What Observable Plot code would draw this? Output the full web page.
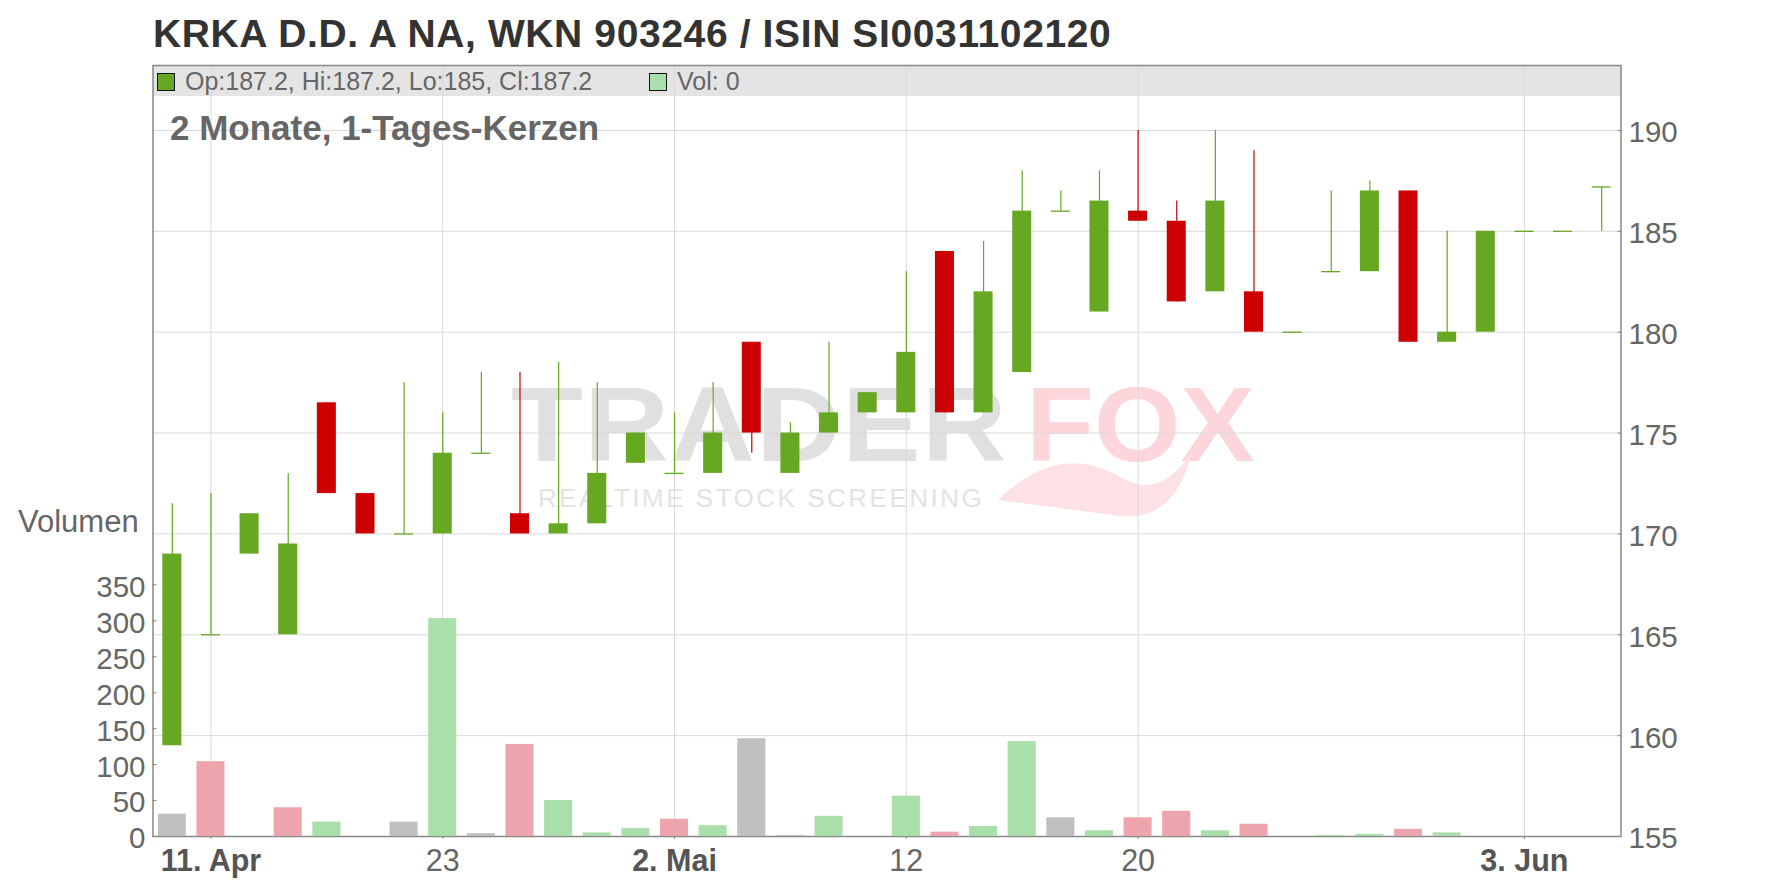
<!DOCTYPE html>
<html>
<head>
<meta charset="utf-8">
<script src="https://cdn.jsdelivr.net/npm/d3@7"></script>
<script src="https://cdn.jsdelivr.net/npm/@observablehq/plot@0.6"></script>
<style>
html, body { margin: 0; padding: 0; background: #fff; overflow: hidden; }
#root { position: relative; width: 1776px; height: 888px; font-family: "Liberation Sans", Arial, sans-serif; }
.abs { position: absolute; white-space: nowrap; line-height: 1; }
#root svg { position: absolute; left: 0; top: 0; }
</style>
</head>
<body>
<div id="root"></div>
<script>
// ---- data ----
const dates = ["2025-04-10","2025-04-11","2025-04-14","2025-04-15","2025-04-16","2025-04-17","2025-04-22","2025-04-23","2025-04-24","2025-04-25","2025-04-28","2025-04-29","2025-04-30","2025-05-02","2025-05-05","2025-05-06","2025-05-07","2025-05-08","2025-05-09","2025-05-12","2025-05-13","2025-05-14","2025-05-15","2025-05-16","2025-05-19","2025-05-20","2025-05-21","2025-05-22","2025-05-23","2025-05-26","2025-05-27","2025-05-28","2025-05-29","2025-05-30","2025-06-02","2025-06-03","2025-06-04","2025-06-05"];
const openP  = [159.5,165,169,165,176.5,172,170,170,174,171,170,170.5,173.5,173,173,179.5,173,175,176,176,184,176,178,186,181,186,185.5,182,182,180,183,183,187,179.5,180,185,185,187.2];
const highP  = [171.5,172,171,173,176.5,172,177.5,176,178,178,178.5,177.5,175,176,177.5,179.5,175.5,179.5,177,183,184,184.5,188,187,188,190,186.5,190,189,180,187,187.5,187,185,185,185,185,187.2];
const lowP   = [159.5,165,169,165,172,170,170,170,174,170,170,170.5,173.5,173,173,174,173,175,176,176,176,176,178,186,181,185.5,181.5,182,180,180,183,183,179.5,179.5,180,185,185,185];
const closeP = [169,165,171,169.5,172,170,170,174,174,170,170.5,173,175,173,175,175,175,176,177,179,176,182,186,186,186.5,185.5,181.5,186.5,180,180,183,187,179.5,180,185,185,185,187.2];
const volume = [31,104,0,40,20,0,20,303,4,128,50,5,11,24,15,136,1.5,28,0,56,6,14,132,26,8,26,35,8,17,0,1.5,3,10,5,0,0,0,0];

const priceTicks = [155,160,165,170,175,180,185,190];
const volumeTicks = [0,50,100,150,200,250,300,350];
const xTickDates  = ["2025-04-11","2025-04-23","2025-05-02","2025-05-12","2025-05-20","2025-06-03"];
const xTickLabels = ["11. Apr","23","2. Mai","12","20","3. Jun"];
const xTickBold   = [true,false,true,false,false,true];

const title = "KRKA D.D. A NA, WKN 903246 / ISIN SI0031102120";
const subtitle = "2 Monate, 1-Tages-Kerzen";
const legendOHLC = "Op:187.2, Hi:187.2, Lo:185, Cl:187.2";
const legendVol = "Vol: 0";
const volumeLabel = "Volumen";

// ---- styling ----
const GREEN = "#67a822", RED = "#cc0000";
const VOL_UP = "#aadeaa", VOL_DOWN = "#eda4ad", VOL_FLAT = "#c0c0c0";
const GRID = "#d9d9d9", AXIS = "#888";
const FONT = '"Liberation Sans", Arial, sans-serif';
const W = 1776, H = 888, mL = 152.5, mR = 155.5, mT = 65, mB = 52;

const rows = dates.map((d, i) => ({
  date: d, open: openP[i], high: highP[i], low: lowP[i], close: closeP[i], volume: volume[i],
  up: closeP[i] >= openP[i],
  volDir: i === 0 ? 0 : Math.sign(closeP[i] - closeP[i - 1])
}));
const labelOf = new Map(xTickDates.map((d, i) => [d, xTickLabels[i]]));
const boldTicks = xTickDates.filter((d, i) => xTickBold[i]);
const regTicks = xTickDates.filter((d, i) => !xTickBold[i]);

const root = document.getElementById("root");
function addDiv(text, css) {
  const el = document.createElement("div");
  el.className = "abs";
  el.textContent = text;
  Object.assign(el.style, css);
  root.appendChild(el);
  return el;
}

// legend band (behind the charts)
addDiv("", {left: mL + "px", top: mT + "px", width: (W - mL - mR) + "px", height: "31px", background: "#e4e4e4"});

// watermark (behind the charts)
addDiv("TRADER", {left: "511px", top: "372px", fontSize: "105px", fontWeight: "bold", color: "#e0e0e0", letterSpacing: "1px", transform: "scaleX(1.12)", transformOrigin: "0 0"});
addDiv("FOX", {left: "1026px", top: "372px", fontSize: "105px", fontWeight: "bold", color: "#fdd6db", transform: "scaleX(1.06)", transformOrigin: "0 0"});
addDiv("REALTIME STOCK SCREENING", {left: "538px", top: "485px", fontSize: "26px", color: "#e3e3e3", letterSpacing: "2.5px"});
const tail = document.createElementNS("http://www.w3.org/2000/svg", "svg");
tail.setAttribute("width", W); tail.setAttribute("height", H);
tail.innerHTML = '<path d="M 998 500 Q 1060 440 1122 478 Q 1160 500 1192 452 Q 1175 522 1120 516 Q 1060 508 998 500 Z" fill="#fde1e4"/>';
root.appendChild(tail);

const baseStyle = {background: "transparent", fontFamily: FONT, fontSize: "29.5px", color: "#666", overflow: "visible"};

// ---- price chart ----
const priceChart = Plot.plot({
  width: W, height: H, marginLeft: mL, marginRight: mR, marginTop: mT, marginBottom: mB,
  style: baseStyle,
  x: {type: "band", domain: dates, padding: 0, round: false, label: null},
  y: {domain: [155, 193.22], label: null},
  marks: [
    Plot.gridY(priceTicks, {stroke: GRID, strokeOpacity: 1}),
    Plot.gridX(xTickDates, {stroke: GRID, strokeOpacity: 1}),
    Plot.ruleX(rows.filter(d => d.up), {x: "date", y1: "low", y2: "high", stroke: GREEN, strokeWidth: 1.2}),
    Plot.ruleX(rows.filter(d => !d.up), {x: "date", y1: "low", y2: "high", stroke: RED, strokeWidth: 1.2}),
    Plot.barY(rows.filter(d => d.up && d.open !== d.close), {x: "date", y1: "open", y2: "close", fill: GREEN, insetLeft: 9.8, insetRight: 9.8}),
    Plot.barY(rows.filter(d => !d.up), {x: "date", y1: "open", y2: "close", fill: RED, insetLeft: 9.8, insetRight: 9.8}),
    Plot.tickY(rows.filter(d => d.open === d.close), {x: "date", y: "close", stroke: GREEN, strokeWidth: 1.3, insetLeft: 9.8, insetRight: 9.8}),
    Plot.frame({stroke: AXIS, strokeWidth: 1.5}),
    Plot.axisY(priceTicks, {anchor: "right", tickSize: 4, dx: -4, tickFormat: () => "", stroke: AXIS, label: null}),
    Plot.axisY(priceTicks, {anchor: "right", tickSize: 0, tickPadding: 7.5, dy: 2.5, fill: "#666", label: null}),
    Plot.axisX(boldTicks, {anchor: "bottom", tickSize: 3, tickPadding: 9.4, tickFormat: d => labelOf.get(d), fontWeight: "bold", fontSize: "30.5px", fill: "#555", stroke: AXIS, label: null}),
    Plot.axisX(regTicks, {anchor: "bottom", tickSize: 3, tickPadding: 9.4, tickFormat: d => labelOf.get(d), fontSize: "30.5px", fill: "#666", stroke: AXIS, label: null})
  ]
});
root.appendChild(priceChart);

// ---- volume chart (overlay, own scale on the left) ----
const volChart = Plot.plot({
  width: W, height: H, marginLeft: mL, marginRight: mR, marginTop: mT, marginBottom: mB,
  style: baseStyle,
  x: {type: "band", domain: dates, padding: 0, round: false, axis: null, label: null},
  y: {domain: [0, 1072.2], label: null},
  marks: [
    Plot.barY(rows.filter(d => d.volume > 0 && d.volDir > 0), {x: "date", y: "volume", fill: VOL_UP, insetLeft: 5.3, insetRight: 5.3}),
    Plot.barY(rows.filter(d => d.volume > 0 && d.volDir < 0), {x: "date", y: "volume", fill: VOL_DOWN, insetLeft: 5.3, insetRight: 5.3}),
    Plot.barY(rows.filter(d => d.volume > 0 && d.volDir === 0), {x: "date", y: "volume", fill: VOL_FLAT, insetLeft: 5.3, insetRight: 5.3}),
    Plot.axisY(volumeTicks, {anchor: "left", tickSize: 4, dx: 4, tickFormat: () => "", stroke: AXIS, label: null}),
    Plot.axisY(volumeTicks, {anchor: "left", tickSize: 0, tickPadding: 7.5, dy: 2.5, fill: "#666", label: null})
  ]
});
root.appendChild(volChart);

// ---- texts ----
addDiv(title, {left: "153px", top: "13.7px", fontSize: "39px", fontWeight: "bold", color: "#333", letterSpacing: "0.62px"});
addDiv("", {left: "157px", top: "72.5px", width: "18px", height: "18px", background: GREEN, border: "1px solid #111", boxSizing: "border-box"});
addDiv(legendOHLC, {left: "185px", top: "68.9px", fontSize: "25px", color: "#666"});
addDiv("", {left: "649px", top: "72.5px", width: "18px", height: "18px", background: VOL_UP, border: "1px solid #111", boxSizing: "border-box"});
addDiv(legendVol, {left: "677px", top: "68.9px", fontSize: "25px", color: "#666"});
addDiv(subtitle, {left: "170px", top: "109.7px", fontSize: "35px", fontWeight: "bold", color: "#666"});
addDiv(volumeLabel, {left: "18px", top: "506px", fontSize: "31px", color: "#666"});
</script>
</body>
</html>
